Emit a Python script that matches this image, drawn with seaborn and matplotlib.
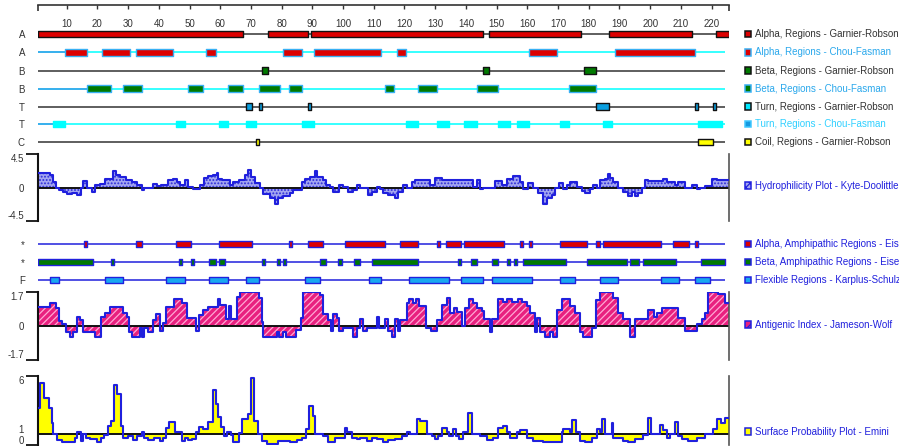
import numpy as np
import matplotlib
matplotlib.use("Agg")
import matplotlib.pyplot as plt
from matplotlib.patches import Rectangle
from matplotlib.transforms import ScaledTranslation
import seaborn as sns

# ---------------- data ----------------
seq_len = 225
ruler_ticks = list(range(10, 221, 10))

# secondary-structure regions: (first residue, last residue)
alpha_gr = [(1, 67), (76, 88), (90, 145), (148, 177), (187, 213), (222, 225)]
alpha_cf = [(10, 16), (22, 30), (33, 44), (56, 58), (81, 86), (91, 112), (118, 120),
            (161, 169), (189, 214)]
beta_gr = [(74, 75), (146, 147), (179, 182)]
beta_cf = [(17, 24), (29, 34), (50, 54), (63, 67), (73, 79), (83, 86), (114, 116),
           (125, 130), (144, 150), (174, 182)]
turn_gr = [(69, 70), (73, 73), (89, 89), (183, 186), (215, 215), (221, 221)]
turn_cf = [(6, 9), (46, 48), (60, 62), (69, 71), (87, 90), (121, 124), (131, 134),
           (140, 143), (151, 154), (157, 160), (171, 173), (185, 187), (216, 223)]
coil_gr = [(72, 72), (216, 220)]

alpha_amph = [(16, 16), (33, 34), (46, 50), (60, 70), (83, 83), (89, 93), (101, 113),
              (119, 124), (131, 131), (134, 138), (140, 152), (158, 158), (161, 161),
              (171, 179), (183, 183), (185, 203), (208, 212), (215, 215)]
beta_amph = [(1, 18), (25, 25), (47, 47), (51, 51), (57, 58), (60, 61), (74, 74),
             (79, 79), (81, 81), (93, 94), (99, 99), (104, 105), (110, 124), (138, 138),
             (142, 143), (149, 150), (154, 154), (156, 156), (159, 172), (180, 192),
             (194, 196), (198, 208), (217, 224)]
flexible = [(5, 7), (23, 28), (43, 48), (57, 62), (69, 72), (88, 92), (109, 112),
            (122, 134), (139, 145), (149, 161), (171, 175), (184, 189), (204, 209),
            (215, 219)]

# step profiles: (segment start position, value)
hydro_steps = [
    (0.5, 2.0), (4.6, 1.65), (5.4, 0.8), (6.5, 0), (7.6, -0.35), (8.9, -0.55), (10.0, -0.9), (11.6, -0.7), (13.25, -1.0), (14.55, 0),
    (15.4, 0.9), (16.7, 0), (18.1, -0.55), (19.2, 0.4), (20.8, 0.5), (22.5, 1.2), (25.2, 2.2), (26.05, 1.65), (27.35, 1.4), (29.3, 1.0),
    (31.2, 0.7), (33.0, 0.4), (34.4, -0.35), (35.3, 0), (38.0, 0.5), (39.3, 0.2), (40.6, 0.3), (43.1, 1.05), (44.7, 1.2), (46.0, 0.7),
    (46.9, 0.3), (48.5, 1.05), (49.6, 0.1), (51.2, -0.15), (53.4, 0.3), (54.7, 1.3), (56.1, 1.55), (57.75, 1.7), (58.8, 2.0), (59.4, 1.2),
    (60.5, 1.05), (63.2, 0.3), (64.3, 0.75), (66.2, 1.0), (68.1, 1.65), (69.1, 2.3), (69.9, 1.4), (71.3, 0.55), (73.0, 0), (74.0, -0.9),
    (76.2, -1.45), (77.8, -2.2), (78.9, -1.45), (80.5, -1.2), (82.7, -0.8), (83.8, -0.35), (86.5, 0.75), (87.6, 1.2), (89.2, 1.4), (90.85, 2.2),
    (91.6, 1.4), (93.35, 1.0), (94.6, 0.4), (95.7, 0.1), (96.8, -0.55), (98.8, 0.3), (100.1, 0.1), (101.7, -0.55), (103.3, -0.35), (104.4, 0.3),
    (105.5, 0), (108.2, -1.0), (109.3, -0.55), (110.9, 0.1), (112.0, -0.2), (113.1, -0.8), (114.7, -1.0), (116.9, -1.35), (118.0, -0.55), (119.6, 0.4),
    (120.7, 0), (122.3, 0.75), (123.4, 1.05), (128.3, 0.3), (129.9, 1.3), (132.1, 1.05), (134.8, 1.0), (140.8, 1.05), (142.4, 0.1), (143.5, 1.0),
    (144.6, -0.15), (145.7, 0), (149.5, 0.85), (151.6, 0.3), (153.3, 1.2), (155.4, 1.55), (157.6, 0.75), (158.7, -0.15), (160.3, 0.6), (162.0, 0),
    (163.6, -0.8), (165.2, -2.2), (166.3, -1.45), (167.9, -1.0), (169.0, 0), (170.4, 0.6), (171.5, -0.15), (172.8, 0.4), (173.9, 0.75), (176.1, 0.1),
    (177.7, -0.5), (178.8, -0.8), (180.4, -0.15), (181.3, 0.3), (182.6, 0), (183.7, 1.0), (185.3, 1.2), (186.4, 1.85), (186.9, 1.3), (188.0, 0.75),
    (189.6, 0), (191.3, -0.55), (192.9, -1.2), (194.0, -0.55), (195.1, -1.2), (196.1, -0.8), (197.2, 0), (198.3, 1.05), (199.4, 0.9), (204.3, 1.1),
    (205.4, 0.75), (208.1, 0.4), (209.2, 0.75), (211.3, 0), (213.5, 0.4), (215.1, -0.2), (216.2, 0), (217.8, 0.2), (220.0, 1.2), (221.6, 1.0),
]
antigenic_steps = [
    (0.5, 0.95), (4.6, 1.15), (6.5, 0.9), (7.6, 0.25), (8.5, 0.1), (9.7, -0.28), (11.1, -0.52), (12.2, -0.28), (13.5, 0.45), (14.3, 0.3),
    (15.4, -0.28), (19.2, -0.52), (21.2, 0.45), (22.5, 0.65), (24.1, 0.95), (28.4, 0.65), (29.5, 0.45), (30.4, -0.28), (31.4, -0.52), (33.9, -0.1),
    (34.6, -0.52), (35.3, -0.1), (36.4, -0.28), (38.2, 0.3), (39.1, 0.6), (40.4, -0.22), (41.25, 0.15), (42.2, 0.95), (44.9, 1.35), (47.4, 1.15),
    (49.3, 0.4), (52.1, -0.22), (53.1, 0.55), (54.3, 0.8), (56.1, 0.95), (59.4, 1.35), (59.9, 1.05), (61.9, 0.35), (63.0, 1.0), (63.4, 0.35),
    (65.4, 1.47), (66.4, 1.72), (72.7, 1.4), (73.5, 0.22), (74.0, -0.52), (78.4, -0.28), (79.2, -0.52), (80.3, -0.28), (81.4, -0.52), (84.7, -0.2),
    (86.3, 0.4), (87.1, 1.72), (92.5, 1.55), (93.35, 0.6), (95.2, 0.3), (96.0, -0.22), (96.8, 0.6), (97.9, 0.4), (98.8, -0.22), (100.1, -0.1),
    (103.3, -0.52), (104.4, -0.1), (105.5, 0.35), (106.6, -0.22), (107.7, -0.1), (110.9, 0.45), (111.8, -0.1), (113.6, 0.35), (114.7, -0.22), (115.8, -0.52),
    (116.9, 0.35), (118.0, -0.22), (118.5, 0.3), (120.9, 1.15), (121.6, 1.35), (122.7, 1.15), (123.7, 1.35), (124.8, 1.0), (127.0, -0.1), (128.5, -0.22),
    (130.7, 0.3), (132.1, 1.05), (133.7, 1.4), (134.8, 0.65), (136.1, 0.92), (137.0, 0.72), (138.8, 0.02), (139.7, 0.92), (141.0, 1.35), (142.4, 1.15),
    (143.5, 0.92), (145.1, 0.75), (145.9, 0.35), (147.8, -0.28), (148.6, 0.35), (150.5, 1.35), (152.2, 1.2), (153.3, 1.35), (154.9, 1.2), (157.1, 1.35),
    (158.2, 1.2), (160.0, 1.0), (160.9, 0.65), (162.5, -0.28), (163.3, 0.4), (164.1, -0.28), (165.7, -0.52), (167.4, -0.28), (168.5, -0.52), (169.5, 0.8),
    (171.2, 1.35), (173.9, 1.0), (175.5, 0.65), (177.1, -0.28), (178.2, -0.52), (180.9, -0.1), (182.2, 1.3), (183.7, 1.72), (188.0, 1.4), (189.6, 0.65),
    (191.3, 0.35), (193.4, -0.52), (195.1, 0.35), (199.4, 0.8), (201.2, 0.47), (202.1, 0.65), (203.7, 0.92), (209.2, 0.4), (211.3, -0.25), (215.1, 0.1),
    (216.8, 0.35), (217.8, 0.65), (218.9, 1.72), (222.2, 1.6), (224.4, 1.15),
]
surface_steps = [
    (0.5, 3.26), (1.3, 5.38), (2.7, 4.13), (4.3, 3.2), (5.1, 1.87), (5.65, 1.0), (6.7, 0.45), (8.4, 0.22), (10.0, 0.3), (12.7, 0.6),
    (13.5, 1.09), (14.55, 0.36), (15.2, 0.94), (16.3, 0.65), (17.6, 0.5), (19.8, 0.3), (21.2, 0.65), (22.25, 0.88), (23.55, 1.67), (24.4, 2.1),
    (25.4, 5.23), (26.3, 4.42), (27.6, 1.67), (28.4, 0.65), (30.1, 0.74), (31.7, 0.45), (33.0, 0.8), (34.4, 1.17), (35.2, 0.65), (36.6, 0.45),
    (38.4, 0.6), (40.4, 0.36), (41.5, 0.65), (42.2, 1.52), (43.3, 1.96), (45.3, 1.09), (47.4, 0.36), (48.5, 0.65), (49.6, 0.45), (50.7, 0.5),
    (52.1, 1.09), (53.2, 1.58), (54.5, 1.38), (56.1, 2.04), (57.75, 4.77), (58.6, 3.55), (59.4, 2.45), (60.1, 1.58), (61.3, 0.74), (62.1, 1.09),
    (63.5, 0.88), (64.3, 0.3), (66.2, 1.03), (67.0, 2.25), (69.1, 2.68), (69.9, 5.81), (71.0, 2.1), (72.4, 1.0), (73.5, 0.36), (75.1, 0.13),
    (78.9, 0.36), (82.7, 0.22), (84.9, 0.45), (86.5, 0.65), (87.9, 1.38), (89.0, 3.35), (90.1, 2.54), (90.85, 0.94), (93.6, 0.74), (95.2, 0.3),
    (97.4, 0.65), (100.6, 1.52), (101.2, 1.17), (102.8, 0.65), (104.4, 0.5), (105.5, 0.65), (107.7, 0.36), (109.3, 0.65), (110.9, 0.5), (113.1, 0.3),
    (114.7, 0.45), (116.9, 0.5), (119.1, 0.8), (120.7, 1.17), (121.8, 1.0), (124.0, 2.25), (125.0, 2.1), (127.2, 0.94), (128.8, 0.74), (129.9, 0.5),
    (131.0, 0.8), (132.3, 1.52), (133.8, 1.09), (134.6, 0.74), (135.7, 1.43), (136.8, 0.8), (137.9, 0.5), (139.2, 1.17), (140.8, 2.74), (141.9, 1.0),
    (144.6, 0.74), (146.8, 0.45), (148.9, 0.65), (150.5, 1.52), (152.2, 1.67), (153.3, 1.17), (154.4, 0.65), (156.5, 1.09), (157.6, 1.29), (159.8, 0.57),
    (162.0, 0.36), (165.2, 0.22), (171.2, 1.09), (171.7, 1.43), (173.9, 1.09), (174.4, 2.16), (175.7, 1.09), (177.1, 0.36), (178.8, 0.3), (180.9, 0.65),
    (182.6, 1.43), (183.7, 1.09), (184.2, 2.3), (185.3, 1.0), (187.5, 1.87), (188.0, 0.65), (191.3, 0.36), (192.9, 0.22), (195.1, 0.5), (197.8, 0.88),
    (199.4, 2.39), (200.2, 1.0), (203.2, 1.72), (204.3, 1.29), (205.4, 0.65), (206.4, 1.0), (208.1, 1.96), (209.2, 0.8), (210.2, 0.5), (212.4, 0.36),
    (215.1, 0.65), (217.8, 1.0), (220.6, 1.38), (221.9, 2.3), (223.0, 1.9), (224.4, 2.39),
]

top_labels = ["A", "A", "B", "B", "T", "T", "C"]
mid_labels = ["*", "*", "F"]
legend_texts = [
    "Alpha, Regions - Garnier-Robson", "Alpha, Regions - Chou-Fasman",
    "Beta, Regions - Garnier-Robson", "Beta, Regions - Chou-Fasman",
    "Turn, Regions - Garnier-Robson", "Turn, Regions - Chou-Fasman",
    "Coil, Regions - Garnier-Robson", "Hydrophilicity Plot - Kyte-Doolittle",
    "Alpha, Amphipathic Regions - Eisenberg", "Beta, Amphipathic Regions - Eisenberg",
    "Flexible Regions - Karplus-Schulz", "Antigenic Index - Jameson-Wolf",
    "Surface Probability Plot - Emini",
]
hydro_ticks = ["-4.5", "0", "4.5"]
antigenic_ticks = ["-1.7", "0", "1.7"]
surface_ticks = ["0", "1", "6"]

# ---------------- style ----------------
sns.set_theme(style="white")
plt.rcParams["font.family"] = ["Liberation Sans", "DejaVu Sans"]
plt.rcParams["hatch.linewidth"] = 0.9

RED, GREEN = "#dd0000", "#007a00"
CYAN, TBLUE, YEL = "#00ffff", "#0a9fe0", "#ffff00"
LBLUE, BLUE, DARK = "#38b0f4", "#2020dd", "#333333"
FLEX = "#19a8f0"
HYD_FACE, PINK = "#a4a6f0", "#e8207f"

W, H = 899, 446
fig = plt.figure(figsize=(W / 100, H / 100), dpi=100)


def add_px(x0, y0, x1, y1):
    a = fig.add_axes([x0 / W, 1 - y1 / H, (x1 - x0) / W, (y1 - y0) / H])
    a.set_facecolor("none")
    return a


def shift_px(label, dy):
    label.set_transform(label.get_transform() +
                        ScaledTranslation(0, -dy / 100, fig.dpi_scale_trans))


X0, X1 = 37.5, 728.5
XLIM = (0.5, seq_len + 0.5)

# ---------------- ruler ----------------
ax_r = add_px(X0, 0, X1, 5)
ax_r.set_xlim(*XLIM)
ax_r.set_ylim(0, 1)
for s in ["left", "right", "top"]:
    ax_r.spines[s].set_visible(False)
ax_r.spines["bottom"].set_color(DARK)
ax_r.spines["bottom"].set_linewidth(1.2)
ax_r.set_yticks([])
ax_r.set_xticks(ruler_ticks)
ax_r.set_xticklabels([str(t) for t in ruler_ticks])
ax_r.set_xticks(list(XLIM), minor=True)
ax_r.tick_params(axis="x", which="major", bottom=True, direction="out", length=2.6,
                 width=1, color=DARK, labelsize=7, labelcolor=DARK, pad=7.4)
ax_r.tick_params(axis="x", which="minor", bottom=True, direction="out", length=4.2,
                 width=1.2, color=DARK)


# ---------------- region rows ----------------
def draw_rows(ax, rows, ys, labels):
    ax.set_xlim(*XLIM)
    for s in ax.spines.values():
        s.set_visible(False)
    ax.set_xticks([])
    ax.set_yticks(ys)
    ax.set_yticklabels(labels)
    ax.tick_params(axis="y", left=False, length=0, pad=9, labelsize=7, labelcolor=DARK)
    for (regs, face, edge, line, lead), y in zip(rows, ys):
        ax.hlines(y, XLIM[0], XLIM[1] - 1, color=line, lw=1.1, zorder=1)
        if lead:
            ax.hlines(y, XLIM[0], regs[0][0] - 0.5, color=lead, lw=1.1, zorder=1.5)
        ax.broken_barh([(s - 0.5, e - s + 1) for s, e in regs], (y - 3.2, 6.4),
                       facecolors=face, edgecolors=edge, linewidth=1.0, zorder=2)


ax_t = add_px(X0, 28, X1, 148)
ax_t.set_ylim(148, 28)
top_y = [34, 52.3, 70.5, 88.5, 106.5, 124, 142]
top_rows = [
    (alpha_gr, RED, "#111111", DARK, None),
    (alpha_cf, RED, LBLUE, CYAN, "#3a9ae8"),
    (beta_gr, GREEN, "#111111", DARK, None),
    (beta_cf, GREEN, LBLUE, CYAN, "#3a9ae8"),
    (turn_gr, TBLUE, "#111111", DARK, None),
    (turn_cf, CYAN, CYAN, CYAN, "#3a9ae8"),
    (coil_gr, YEL, "#111111", DARK, None),
]
draw_rows(ax_t, top_rows, top_y, top_labels)

ax_m = add_px(X0, 236, X1, 288)
ax_m.set_ylim(288, 236)
mid_y = [244, 261.8, 279.8]
mid_rows = [
    (alpha_amph, RED, BLUE, BLUE, None),
    (beta_amph, GREEN, BLUE, BLUE, None),
    (flexible, FLEX, BLUE, BLUE, None),
]
draw_rows(ax_m, mid_rows, mid_y, mid_labels)


# ---------------- profiles ----------------
def profile_axes(box, lim, ticklabels, minor_val):
    ax = add_px(*box)
    ax.set_xlim(*XLIM)
    ax.set_ylim(*lim)
    ax.set_xticks([])
    for s in ["top", "bottom"]:
        ax.spines[s].set_visible(False)
    ax.spines["left"].set_color("#111111")
    ax.spines["left"].set_linewidth(1.5)
    ax.spines["right"].set_color("#555555")
    ax.spines["right"].set_linewidth(1.2)
    ax.set_yticks(list(lim))
    ax.set_yticklabels([ticklabels[0], ticklabels[2]])
    ax.set_yticks([minor_val], minor=True)
    ax.set_yticklabels([ticklabels[1]], minor=True)
    ax.tick_params(axis="y", which="major", left=True, direction="out", length=9,
                   width=1.3, color="#111111", pad=0.8, labelsize=7, labelcolor=DARK)
    ax.tick_params(axis="y", which="minor", left=True, length=0, pad=9.8,
                   labelsize=7, labelcolor=DARK)
    lo, hi = ax.get_yticklabels()
    lo.set_va("bottom")
    hi.set_va("top")
    return ax


def draw_profile(ax, steps, base, face, hatch, hatch_col):
    starts, vals = map(np.array, zip(*steps))
    edges = np.append(starts, seq_len + 0.5)
    ax.stairs(vals, edges, baseline=base, fill=True, facecolor=face,
              edgecolor=hatch_col, hatch=hatch, linewidth=0, zorder=1)
    sns.lineplot(x=edges, y=np.append(vals, vals[-1]), drawstyle="steps-post",
                 color=BLUE, linewidth=1.5, ax=ax, legend=False, zorder=3)
    ax.axhline(base, color="#111111", lw=1.4, zorder=2)
    ax.set_xlim(*XLIM)
    ax.set_ylabel("")


ax_h = profile_axes((X0, 154, X1, 221), (-4.5, 4.5), hydro_ticks, 0)
draw_profile(ax_h, hydro_steps, 0, HYD_FACE, ".....", "#2b2bd8")

ax_a = profile_axes((X0, 292.3, X1, 360.3), (-1.7, 1.7), antigenic_ticks, 0)
draw_profile(ax_a, antigenic_steps, 0, PINK, "/////", "#ffa8d4")

ax_s = profile_axes((X0, 376, X1, 445), (0, 6), surface_ticks, 1)
draw_profile(ax_s, surface_steps, 1, YEL, None, YEL)
# keep the "1" and "0" labels of the surface panel apart
ax_s.get_yticklabels()[0].set_va("bottom")
shift_px(ax_s.get_yticklabels()[0], 1.2)
for lbl in ax_s.get_yticklabels(minor=True):
    lbl.set_va("baseline")
    shift_px(lbl, -0.3)

# ---------------- legend ----------------
ax_o = fig.add_axes([0, 0, 1, 1])
ax_o.set_xlim(0, W)
ax_o.set_ylim(H, 0)
ax_o.axis("off")
ax_o.set_facecolor("none")

leg_y = top_y + [185.7] + mid_y + [324.5, 431.7]
leg_style = [
    (RED, "#111111", None, DARK),
    (RED, LBLUE, None, "#2aa8ec"),
    (GREEN, "#111111", None, DARK),
    (GREEN, LBLUE, None, "#2aa8ec"),
    ("#00e8ff", "#111111", None, DARK),
    ("#1499e0", "#40c8ff", None, "#30d0ff"),
    (YEL, "#111111", None, DARK),
    (HYD_FACE, BLUE, "xxxx", BLUE),
    (RED, BLUE, None, BLUE),
    (GREEN, BLUE, None, BLUE),
    (FLEX, BLUE, None, BLUE),
    (PINK, BLUE, "////", BLUE),
    (YEL, BLUE, None, BLUE),
]
for y, (fc, ec, hatch, tc), txt in zip(leg_y, leg_style, legend_texts):
    ax_o.add_patch(Rectangle((744.5, y - 3.3), 6.6, 6.6, facecolor=fc, edgecolor=ec,
                             hatch=hatch, linewidth=1.1))
    ax_o.text(755, y, txt, fontsize=7, color=tc, va="center", ha="left")

fig.savefig("out.png", dpi=100)
